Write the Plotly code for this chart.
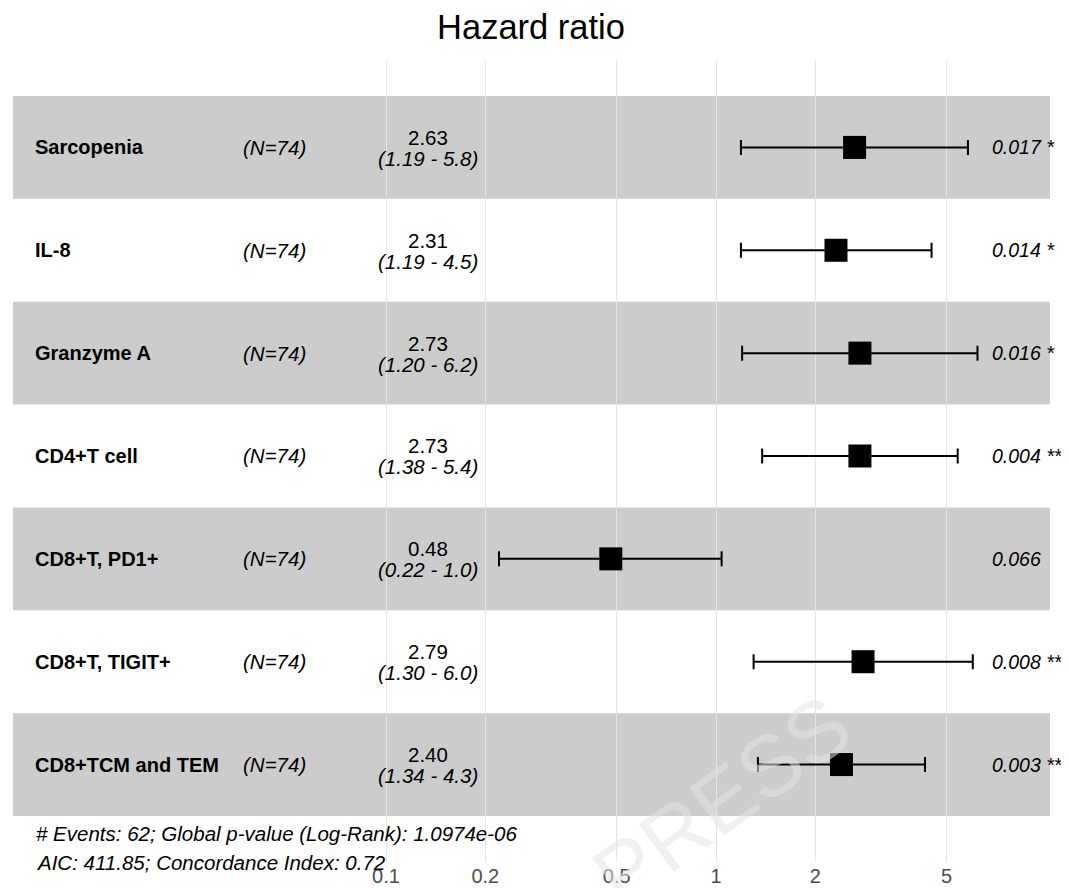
import plotly.graph_objects as go

# ---- data ----
variables = ["Sarcopenia", "IL-8", "Granzyme A", "CD4+T cell", "CD8+T, PD1+",
             "CD8+T, TIGIT+", "CD8+TCM and TEM"]
n_labels = ["(N=74)"] * 7
hr = [2.63, 2.31, 2.73, 2.73, 0.48, 2.79, 2.40]
ci_low = [1.19, 1.19, 1.20, 1.38, 0.22, 1.30, 1.34]
ci_high = [5.8, 4.5, 6.2, 5.4, 1.04, 6.0, 4.3]
hr_labels = ["2.63", "2.31", "2.73", "2.73", "0.48", "2.79", "2.40"]
ci_labels = ["(1.19 - 5.8)", "(1.19 - 4.5)", "(1.20 - 6.2)", "(1.38 - 5.4)",
             "(0.22 - 1.0)", "(1.30 - 6.0)", "(1.34 - 4.3)"]
p_labels = ["0.017 *", "0.014 *", "0.016 *", "0.004 **", "0.066", "0.008 **", "0.003 **"]
tick_vals = [0.1, 0.2, 0.5, 1, 2, 5]
tick_text = ["0.1", "0.2", "0.5", "1", "2", "5"]
footer = ["# Events: 62; Global p-value (Log-Rank): 1.0974e-06",
          "AIC: 411.85; Concordance Index: 0.72"]

# ---- layout geometry (page pixels; the html body adds an 8px margin) ----
OFF = 8
PW, PH = 1069, 888
L, R, T, B = 13, 1050, 60, 862
ROW = 102.86
BAND_BOTTOM = 816
n = len(variables)
ypos = [n - i for i in range(n)]  # top row = n

def px_x(p):
    return (p - L) / (R - L)

def px_y(p):
    return (B - p) / (B - T)

FONT = "Arial, Liberation Sans, sans-serif"

fig = go.Figure()

shapes = []
for i, y in enumerate(ypos):
    if i % 2 == 0:
        shapes.append(dict(type="rect", xref="paper", x0=0, x1=1, yref="y",
                           y0=y - 0.5, y1=y + 0.5, fillcolor="rgba(0,0,0,0.2)",
                           line=dict(width=0), layer="between"))
shapes.append(dict(type="line", xref="x", x0=0, x1=0, yref="paper", y0=0, y1=1,
                   line=dict(color="black", width=2, dash="dot"), layer="between"))

fig.add_trace(go.Scatter(
    x=hr, y=ypos, mode="markers",
    marker=dict(symbol="square", size=23, color="black"),
    error_x=dict(type="data", symmetric=False,
                 array=[h - m for h, m in zip(ci_high, hr)],
                 arrayminus=[m - l for m, l in zip(hr, ci_low)],
                 color="black", thickness=2, width=7.5),
    showlegend=False, hoverinfo="skip"))

ann = []
for i, y in enumerate(ypos):
    ann.append(dict(x=px_x(33), xref="paper", y=y, yref="y", text="<b>" + variables[i] + "</b>",
                    showarrow=False, xanchor="left", yanchor="middle",
                    font=dict(family=FONT, size=20, color="black")))
    ann.append(dict(x=px_x(241), xref="paper", y=y, yref="y", text="<i>" + n_labels[i] + "</i>",
                    showarrow=False, xanchor="left", yanchor="middle",
                    font=dict(family=FONT, size=20.5, color="black")))
    ann.append(dict(x=px_x(428), xref="paper", y=y, yref="y", text=hr_labels[i],
                    showarrow=False, xanchor="center", yanchor="middle", yshift=10,
                    font=dict(family=FONT, size=20.5, color="black")))
    ann.append(dict(x=px_x(428), xref="paper", y=y, yref="y", text="<i>" + ci_labels[i] + "</i>",
                    showarrow=False, xanchor="center", yanchor="middle", yshift=-11,
                    font=dict(family=FONT, size=20.5, color="black")))
    ann.append(dict(x=px_x(990), xref="paper", y=y, yref="y", text="<i>" + p_labels[i] + "</i>",
                    showarrow=False, xanchor="left", yanchor="middle",
                    font=dict(family=FONT, size=19.5, color="black")))

ann.append(dict(x=px_x(34), xref="paper", y=px_y(833), yref="paper", text="<i>" + footer[0] + "</i>",
                showarrow=False, xanchor="left", yanchor="middle",
                font=dict(family=FONT, size=20.5, color="black")))
ann.append(dict(x=px_x(34), xref="paper", y=px_y(862), yref="paper", text="<i>" + footer[1] + "</i>",
                showarrow=False, xanchor="left", yanchor="middle",
                font=dict(family=FONT, size=20.5, color="black")))
# faint watermark
ann.append(dict(x=px_x(722), xref="paper", y=px_y(800), yref="paper", text="PRESS",
                showarrow=False, textangle=-36, xanchor="center", yanchor="middle",
                font=dict(family=FONT, size=86, color="rgba(228,228,228,0.55)")))

W, H = PW - OFF, PH - OFF
fig.update_layout(
    width=W, height=H, autosize=False,
    margin=dict(l=L - OFF, r=PW - R, t=T - OFF, b=PH - B, pad=0),
    paper_bgcolor="white", plot_bgcolor="white",
    title=dict(text="Hazard ratio", x=(531 - OFF) / W, xanchor="center",
               y=1 - (27 - OFF) / H, yanchor="middle",
               font=dict(family=FONT, size=34.5, color="black")),
    xaxis=dict(type="log", range=[(L - 716) / 330, (R - 716) / 330],
               tickvals=tick_vals, ticktext=tick_text, showgrid=True,
               gridcolor="#e5e5e5", gridwidth=1, zeroline=False, showline=False,
               ticks="", ticklabelstandoff=0, automargin=False,
               tickfont=dict(family=FONT, size=20, color="#4d4d4d")),
    yaxis=dict(range=[0.5 - (B - BAND_BOTTOM) / ROW, 0.5 + (BAND_BOTTOM - T) / ROW],
               automargin=False, showgrid=False, zeroline=False,
               showticklabels=False, showline=False),
    shapes=shapes, annotations=ann,
)

fig.write_html("out.html")
